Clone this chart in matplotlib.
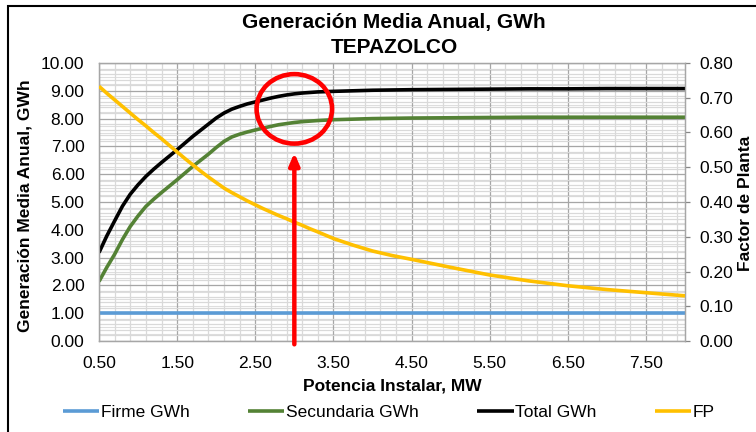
import numpy as np
import matplotlib
matplotlib.use("Agg")
import matplotlib.pyplot as plt
from matplotlib.patches import Ellipse, Rectangle

plt.rcParams['font.family'] = ['Liberation Sans', 'DejaVu Sans']

# Potencia instalada (MW) y generación media anual (GWh)
potencia = [0.5, 0.6, 0.7, 0.8, 0.9, 1.0, 1.1, 1.2, 1.3, 1.4, 1.5, 1.6, 1.7, 1.8, 1.9,
            2.0, 2.1, 2.2, 2.3, 2.4, 2.5, 2.6, 2.7, 2.8, 2.9, 3.0, 3.1, 3.2, 3.3,
            3.5, 3.75, 4.0, 4.25, 4.5, 5.0, 5.5, 6.0, 6.5, 7.0, 7.5, 8.0]
firme = [1.0] * len(potencia)
secundaria = [2.14, 2.65, 3.12, 3.65, 4.12, 4.50, 4.84, 5.10, 5.34, 5.57, 5.80, 6.04, 6.28, 6.50, 6.72,
              6.96, 7.18, 7.34, 7.44, 7.52, 7.59, 7.66, 7.72, 7.78, 7.82, 7.86, 7.89, 7.91, 7.93,
              7.96, 7.98, 8.00, 8.01, 8.02, 8.03, 8.04, 8.05, 8.05, 8.05, 8.05, 8.05]
total = [3.18, 3.78, 4.32, 4.85, 5.28, 5.62, 5.92, 6.18, 6.42, 6.65, 6.88, 7.12, 7.36, 7.58, 7.80,
         8.02, 8.20, 8.34, 8.44, 8.53, 8.60, 8.67, 8.74, 8.80, 8.85, 8.89, 8.92, 8.94, 8.96,
         8.98, 9.00, 9.02, 9.03, 9.04, 9.05, 9.06, 9.07, 9.07, 9.08, 9.08, 9.08]
fp = [0.733, 0.713, 0.694, 0.675, 0.656, 0.637, 0.619, 0.600, 0.582, 0.563, 0.544, 0.525, 0.507, 0.489, 0.472,
      0.456, 0.440, 0.427, 0.415, 0.403, 0.392, 0.381, 0.371, 0.361, 0.352, 0.342, 0.333, 0.323, 0.314,
      0.295, 0.276, 0.259, 0.246, 0.235, 0.212, 0.190, 0.173, 0.159, 0.148, 0.139, 0.130]

x_ticks = [0.5, 1.5, 2.5, 3.5, 4.5, 5.5, 6.5, 7.5]
potencia_sel = 3.0

fig = plt.figure(figsize=(7.56, 4.32), dpi=100)
ax = fig.add_axes([99 / 756, 1 - 341 / 432, 586 / 756, 278 / 432])
ax2 = ax.twinx()

ax.set_xlim(0.5, 8.0)
ax.set_ylim(0, 10)
ax2.set_ylim(0, 0.8)

# rejilla: principal cada 1.0, secundaria cada 0.2
ax.set_xticks(x_ticks)
ax.set_xticks(np.arange(0.5, 8.01, 0.2), minor=True)
ax.set_xticklabels(['%.2f' % v for v in x_ticks])
ax.set_yticks(np.arange(0, 10.01, 1.0))
ax.set_yticks(np.arange(0, 10.01, 0.2), minor=True)
ax.set_yticklabels(['%.2f' % v for v in np.arange(0, 10.01, 1.0)])
ax.grid(which='minor', color='#d9d9d9', lw=0.9, zorder=0)
ax.grid(which='major', color='#a6a6a6', lw=0.9, zorder=0)
# lineas menores del eje secundario, dibujadas bajo las series
ax.hlines(np.arange(0.02, 0.8, 0.02), 0, 1, colors='#dedede', lw=0.8, zorder=0,
          transform=ax2.get_yaxis_transform())
ax.set_axisbelow(True)

ax2.set_yticks(np.arange(0, 0.81, 0.1))
ax2.set_yticklabels(['%.2f' % v for v in np.arange(0, 0.81, 0.1)])

ax.tick_params(which='both', length=0, labelsize=12.5)
ax.tick_params(axis='x', pad=11)
ax.tick_params(axis='y', pad=10.5)
ax2.tick_params(axis='y', length=3.6, width=0.9, color='#868686', pad=7, labelsize=12.5)

for a in (ax, ax2):
    for s in a.spines.values():
        s.set_color('#a6a6a6')
        s.set_linewidth(0.9)

style = dict(lw=2.6, solid_joinstyle='round', solid_capstyle='butt', zorder=3)
l1, = ax.plot(potencia, firme, color='#5b9bd5', label='Firme GWh', **style)
l2, = ax.plot(potencia, secundaria, color='#548235', label='Secundaria GWh', **style)
l3, = ax.plot(potencia, total, color='#000000', label='Total GWh', **style)
l4, = ax2.plot(potencia, fp, color='#ffc000', label='FP', **style)

# circulo y flecha en la potencia seleccionada
ax2.add_patch(Ellipse((potencia_sel, 8.35), 0.966, 2.50, transform=ax.transData,
                      fill=False, edgecolor='#ff0000', lw=3.3, zorder=5))
ax2.annotate('', xy=(potencia_sel, 6.77), xytext=(potencia_sel, -0.12),
             xycoords=ax.transData, textcoords=ax.transData,
             arrowprops=dict(arrowstyle='-|>,head_length=0.35,head_width=0.15',
                             mutation_scale=20, color='#ff0000', lw=3.2,
                             shrinkA=0, shrinkB=0),
             annotation_clip=False, zorder=5)

fig.text(394 / 756, 1 - 28.3 / 432, 'Generación Media Anual, GWh', ha='center',
         va='baseline', fontsize=15, fontweight='bold')
fig.text(394 / 756, 1 - 53.3 / 432, 'TEPAZOLCO', ha='center',
         va='baseline', fontsize=15, fontweight='bold')
fig.text(392 / 756, 1 - 386 / 432, 'Potencia Instalar, MW', ha='center', va='center',
         fontsize=12.5, fontweight='bold')
fig.text(25 / 756, 1 - 206 / 432, 'Generación Media Anual, GWh', ha='center', va='center',
         rotation=90, fontsize=12.5, fontweight='bold')
fig.text(746 / 756, 1 - 203 / 432, 'Factor de Planta', ha='center', va='center',
         rotation=90, fontsize=12.5, fontweight='bold')

fig.legend(handles=[l1, l2, l3, l4], loc='center', bbox_to_anchor=(389 / 756, 1 - 412 / 432),
           ncol=4, frameon=False, fontsize=12.5, handlelength=2.1, handletextpad=0.1,
           columnspacing=3.35)

# marco exterior del grafico
fig.patches.append(Rectangle((8 / 756, -0.1), 1.2, 1 - 6 / 432 + 0.1, transform=fig.transFigure,
                             fill=False, edgecolor='black', lw=1.5))

fig.savefig('out.png', dpi=100)
